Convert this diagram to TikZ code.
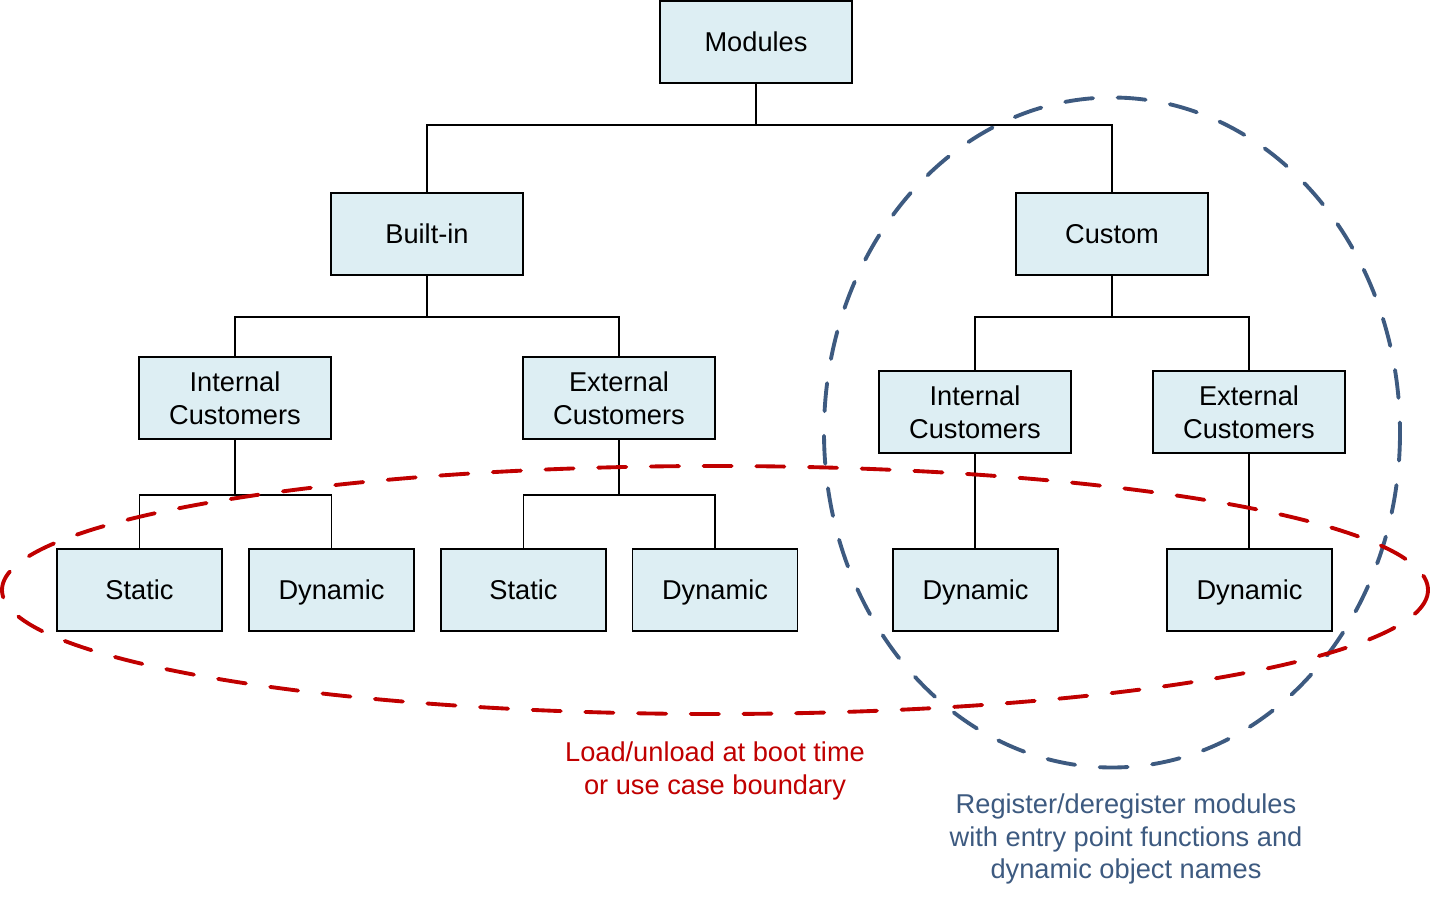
\documentclass[tikz,border=0pt]{standalone}
\usepackage{fontspec}
\setmainfont{Liberation Sans}
\definecolor{boxfill}{HTML}{DDEEF3}
\definecolor{loopred}{HTML}{C00000}
\definecolor{loopblue}{HTML}{3D5A80}
\begin{document}
\begin{tikzpicture}[x=0.02cm,y=-0.02cm,
  box/.style={draw=black,line width=1.1pt,fill=boxfill,minimum width=3.84cm,minimum height=1.64cm,inner sep=0pt,align=center,font=\fontsize{15.5}{18.7}\selectfont},
  leaf/.style={box,minimum width=3.3cm,text height=12pt,text depth=1.5pt},
  link/.style={line width=1.1pt,black,line join=miter},
  loop/.style={line width=2.2pt,line cap=round,dash pattern=on 16pt off 14pt},
  note/.style={align=center,font=\fontsize{15.5}{18.7}\selectfont}]
\useasboundingbox (0,0) rectangle (1430,898);
\node[box] (mod) at (756,42) {Modules};
\node[box] (bi) at (427,234) {Built-in};
\node[box] (cu) at (1112,234) {Custom};
\node[box] (bii) at (235,398) {Internal\\Customers};
\node[box] (bie) at (619,398) {External\\Customers};
\node[box] (cui) at (975,412) {Internal\\Customers};
\node[box] (cue) at (1249,412) {External\\Customers};
\node[leaf] (s1) at (139.5,590) {Static};
\node[leaf] (d1) at (331.5,590) {Dynamic};
\node[leaf] (s2) at (523.5,590) {Static};
\node[leaf] (d2) at (715,590) {Dynamic};
\node[leaf] (d3) at (975.5,590) {Dynamic};
\node[leaf] (d4) at (1249.5,590) {Dynamic};
\draw[link] (mod.south) -- ++(0,41) coordinate (j0);
\draw[link] (bi.north) |- (j0) -| (cu.north);
\draw[link] (bi.south) -- ++(0,41) coordinate (j1);
\draw[link] (bii.north) |- (j1) -| (bie.north);
\draw[link] (cu.south) -- ++(0,41) coordinate (j2);
\draw[link] (cui.north) |- (j2) -| (cue.north);
\draw[link] (bii.south) -- ++(0,55) coordinate (j3);
\draw[link] (s1.north) |- (j3) -| (d1.north);
\draw[link] (bie.south) -- ++(0,55) coordinate (j4);
\draw[link] (s2.north) |- (j4) -| (d2.north);
\draw[link] (cui.south) -- (cui.south |- d3.north);
\draw[link] (cue.south) -- (cue.south |- d4.north);
\coordinate (bc) at (1112,432.5);
\coordinate (rc) at (715,590);
\draw[loop,loopblue] (bc) ellipse [x radius=288, y radius=335];
\draw[loop,loopred] (rc) ellipse [x radius=713, y radius=124];
\node[note,text=loopred] (rn) at (715,771) {Load/unload at boot time\\or use case boundary};
\node[note,text=loopblue] (bn) at (1126,839) {Register/deregister modules\\with entry point functions and\\dynamic object names};
\end{tikzpicture}
\end{document}
